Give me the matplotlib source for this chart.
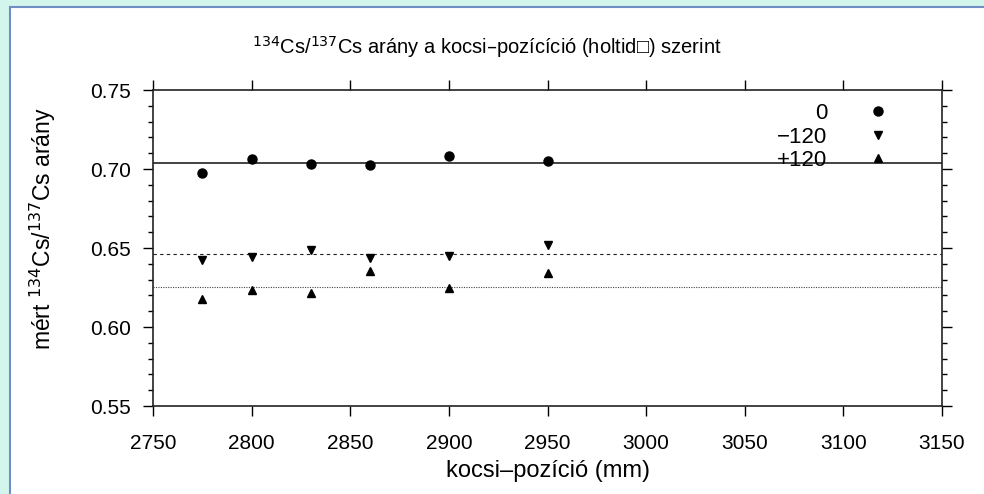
import matplotlib
matplotlib.use("Agg")
import matplotlib.pyplot as plt
from matplotlib.patches import Rectangle
from matplotlib.ticker import MultipleLocator, FormatStrFormatter

plt.rcParams['font.family'] = ['Liberation Sans', 'DejaVu Sans']

# kocsi-pozíció (mm)
positions = [2775, 2800, 2830, 2860, 2900, 2950]

# mért arányok a holtidő-beállítások szerint
ratio_0 = [0.6975, 0.7064, 0.7029, 0.7023, 0.7080, 0.7051]
ratio_m120 = [0.6424, 0.6445, 0.6485, 0.6436, 0.6449, 0.6517]
ratio_p120 = [0.6175, 0.6232, 0.6218, 0.6352, 0.6245, 0.6341]

# átlagok (vízszintes vonalak)
mean_0 = 0.7038
mean_m120 = 0.6464
mean_p120 = 0.6254

labels = ['0', '\u2212120', '+120']

fig = plt.figure(figsize=(9.84, 4.94), dpi=100)
fig.patch.set_facecolor('#d2f6ec')
# fehér "dia" háttér
fig.add_artist(Rectangle((10 / 984, -0.01), 1.0, 1 - 7 / 494 + 0.01,
                         transform=fig.transFigure, facecolor='white',
                         edgecolor='#6f8fc4', linewidth=1.5, zorder=-5))

ax = fig.add_axes([153 / 984, 88 / 494, (942 - 153) / 984, (406 - 90) / 494])
ax.set_zorder(1)
ax.set_facecolor('white')

ax.axhline(mean_0, color='#222222', lw=1.2, zorder=1)
ax.axhline(mean_m120, color='#222222', lw=0.8, ls=(0, (3, 3)), zorder=1)
ax.axhline(mean_p120, color='#444444', lw=0.8, ls=(0, (1, 1.2)), zorder=1)

ax.plot(positions, ratio_0, 'o', color='black', ms=6.5, ls='none', label=labels[0])
ax.plot(positions, ratio_m120, 'v', color='black', ms=5.5, ls='none', label=labels[1])
ax.plot(positions, ratio_p120, '^', color='black', ms=5.5, ls='none', label=labels[2])

ax.set_xlim(2750, 3150)
ax.set_ylim(0.55, 0.75)
ax.xaxis.set_major_locator(MultipleLocator(50))
ax.yaxis.set_major_locator(MultipleLocator(0.05))
ax.yaxis.set_minor_locator(MultipleLocator(0.01))
ax.yaxis.set_major_formatter(FormatStrFormatter('%.2f'))

ax.tick_params(which='both', direction='out', top=True, right=True,
               labeltop=False, labelright=False, labelsize=15, width=1.0)
ax.tick_params(which='major', length=7)
ax.tick_params(which='minor', length=3.5)
ax.tick_params(axis='x', pad=13)
ax.tick_params(axis='y', pad=9)
for s in ax.spines.values():
    s.set_linewidth(1.2)
    s.set_color('#222222')

ax.set_title('$^{134}$Cs/$^{137}$Cs arány a kocsi\u2013pozícíció (holtid\u25a1) szerint',
             fontsize=14.5, pad=26, x=0.423)
ax.set_xlabel('kocsi\u2013pozíció (mm)', fontsize=17, labelpad=5)
ax.set_ylabel('mért $^{134}$Cs/$^{137}$Cs arány', fontsize=16.5)
ax.yaxis.set_label_coords(-0.121, 0.56)

leg = ax.legend(loc='upper right', frameon=False, markerfirst=False, fontsize=16,
                handlelength=2.0, handletextpad=1.27, labelspacing=0.12,
                borderpad=0.4, borderaxespad=0.0,
                bbox_to_anchor=(0.958, 0.9875))

fig.savefig('out.png', dpi=100, facecolor=fig.get_facecolor())
